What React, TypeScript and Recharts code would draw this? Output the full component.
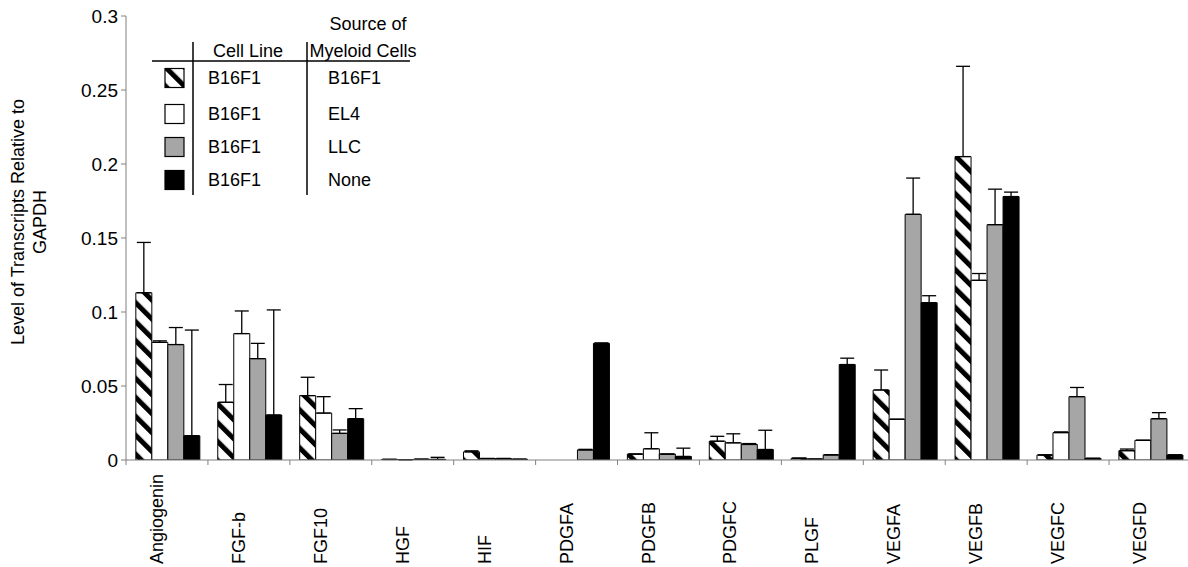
import { BarChart, Bar, XAxis, YAxis, ErrorBar } from 'recharts'

const categories = ['Angiogenin', 'FGF-b', 'FGF10', 'HGF', 'HIF', 'PDGFA', 'PDGFB', 'PDGFC', 'PLGF', 'VEGFA', 'VEGFB', 'VEGFC', 'VEGFD']

// myeloid source B16F1 (hatched)
const b16Values = [0.113, 0.039, 0.0435, 0.0004, 0.0055, 0, 0.004, 0.0127, 0.0012, 0.0473, 0.205, 0.0034, 0.0063]
const b16Errors = [0.034, 0.012, 0.0124, 0, 0.0007, 0, 0, 0.0033, 0, 0.0135, 0.061, 0, 0.0011]
// EL4 (white)
const el4Values = [0.0795, 0.0854, 0.0317, 0.0002, 0.001, 0, 0.0076, 0.0116, 0.0006, 0.0275, 0.1214, 0.0185, 0.0133]
const el4Errors = [0.001, 0.0153, 0.0111, 0, 0, 0, 0.0108, 0.0061, 0, 0, 0.0046, 0.0005, 0]
// LLC (grey)
const llcValues = [0.078, 0.0685, 0.018, 0.0005, 0.001, 0.0068, 0.004, 0.0105, 0.0035, 0.166, 0.159, 0.0428, 0.0279]
const llcErrors = [0.0115, 0.0103, 0.0023, 0, 0, 0.0004, 0, 0.0006, 0, 0.0245, 0.024, 0.0062, 0.0041]
// none (black)
const noneValues = [0.0164, 0.0304, 0.0279, 0.0004, 0.0005, 0.0788, 0.0024, 0.0071, 0.0645, 0.1063, 0.178, 0.0011, 0.0034]
const noneErrors = [0.0714, 0.071, 0.0068, 0.0014, 0, 0.0003, 0.0056, 0.013, 0.0043, 0.0047, 0.003, 0, 0]

const yTicks = [0, 0.05, 0.1, 0.15, 0.2, 0.25, 0.3]

const legendRows = [
  { fill: 'url(#hatchLegend)', cellLine: 'B16F1', source: 'B16F1' },
  { fill: '#ffffff', cellLine: 'B16F1', source: 'EL4' },
  { fill: '#a6a6a6', cellLine: 'B16F1', source: 'LLC' },
  { fill: '#000000', cellLine: 'B16F1', source: 'None' },
]

const FONT = 'Arial, "Liberation Sans", sans-serif'
const AXIS = '#808080'

const data = categories.map((name, i) => ({
  name,
  b16: b16Values[i],
  b16Err: [0, b16Errors[i]],
  el4: el4Values[i],
  el4Err: [0, el4Errors[i]],
  llc: llcValues[i],
  llcErr: [0, llcErrors[i]],
  none: noneValues[i],
  noneErr: [0, noneErrors[i]],
}))

function CategoryTick(props: any) {
  const { x, y, payload } = props
  const band = (props.width || 1065) / categories.length
  const left = x - band / 2
  const lx = x - 10
  const ly = y + 104
  return (
    <g>
      <line x1={left} y1={y} x2={left} y2={y + 5} stroke={AXIS} strokeWidth={1} />
      <text
        x={lx}
        y={ly}
        transform={`rotate(-90, ${lx}, ${ly})`}
        textAnchor="start"
        dominantBaseline="central"
        fontSize={18}
        fontFamily={FONT}
        fill="#000"
      >
        {payload.value}
      </text>
    </g>
  )
}

function Legend() {
  const rowY = [78, 114, 147, 180]
  return (
    <svg width={1188} height={567} style={{ position: 'absolute', left: 0, top: 0, pointerEvents: 'none' }}>
      <defs>
        <pattern id="hatchLegend" patternUnits="userSpaceOnUse" width="13.4" height="13.4" patternTransform="rotate(-45)">
          <rect width="13.4" height="13.4" fill="#fff" />
          <rect width="5" height="13.4" fill="#000" />
        </pattern>
      </defs>
      <g fontFamily={FONT} fontSize={18} fill="#000">
        <text x={368} y={24} textAnchor="middle" dominantBaseline="central">Source of</text>
        <text x={363} y={51} textAnchor="middle" dominantBaseline="central">Myeloid Cells</text>
        <text x={248} y={51} textAnchor="middle" dominantBaseline="central">Cell Line</text>
        {legendRows.map((r, i) => (
          <g key={r.source}>
            <rect x={165} y={rowY[i] - 9.5} width={19} height={19} fill={r.fill} stroke="#000" strokeWidth={1.2} />
            <text x={208} y={rowY[i]} dominantBaseline="central">{r.cellLine}</text>
            <text x={328} y={rowY[i]} dominantBaseline="central">{r.source}</text>
          </g>
        ))}
      </g>
      <line x1={152} y1={61} x2={410} y2={61} stroke="#000" strokeWidth={1.5} />
      <line x1={193} y1={42} x2={193} y2={195} stroke="#000" strokeWidth={1.5} />
      <line x1={307} y1={42} x2={307} y2={195} stroke="#000" strokeWidth={1.5} />
      <g fontFamily={FONT} fontSize={18} fill="#000">
        <text x={18} y={222} transform="rotate(-90, 18, 222)" textAnchor="middle" dominantBaseline="central">
          Level of Transcripts Relative to
        </text>
        <text x={40} y={222} transform="rotate(-90, 40, 222)" textAnchor="middle" dominantBaseline="central">
          GAPDH
        </text>
      </g>
    </svg>
  )
}

export default function App() {
  return (
    <div style={{ position: 'fixed', left: 0, top: 0, width: 1188, height: 567, overflow: 'hidden', background: '#fff' }}>
      <BarChart
        width={1196}
        height={567}
        data={data}
        margin={{ top: 16, right: 5, bottom: 0, left: 0 }}
        barCategoryGap="12%"
        barGap={0}
      >
        <defs>
          <pattern id="hatch" patternUnits="userSpaceOnUse" width="13.4" height="13.4" patternTransform="rotate(-45)">
            <rect width="13.4" height="13.4" fill="#fff" />
            <rect width="5" height="13.4" fill="#000" />
          </pattern>
        </defs>
        <XAxis
          dataKey="name"
          interval={0}
          height={107}
          stroke={AXIS}
          tickLine={false}
          tickSize={0}
          tickMargin={0}
          tick={<CategoryTick />}
        />
        <YAxis
          width={126}
          domain={[0, 0.3]}
          ticks={yTicks}
          allowDataOverflow
          stroke={AXIS}
          tickSize={5}
          tickMargin={3}
          tick={{ fontSize: 19, fontFamily: FONT, fill: '#000' }}
        />
        <Bar dataKey="b16" fill="url(#hatch)" stroke="#000" strokeWidth={1} isAnimationActive={false}>
          <ErrorBar dataKey="b16Err" width={7} stroke="#000" strokeWidth={1.3} />
        </Bar>
        <Bar dataKey="el4" fill="#ffffff" stroke="#000" strokeWidth={1} isAnimationActive={false}>
          <ErrorBar dataKey="el4Err" width={7} stroke="#000" strokeWidth={1.3} />
        </Bar>
        <Bar dataKey="llc" fill="#a6a6a6" stroke="#000" strokeWidth={1} isAnimationActive={false}>
          <ErrorBar dataKey="llcErr" width={7} stroke="#000" strokeWidth={1.3} />
        </Bar>
        <Bar dataKey="none" fill="#000000" stroke="#000" strokeWidth={1} isAnimationActive={false}>
          <ErrorBar dataKey="noneErr" width={7} stroke="#000" strokeWidth={1.3} />
        </Bar>
      </BarChart>
      <Legend />
    </div>
  )
}
